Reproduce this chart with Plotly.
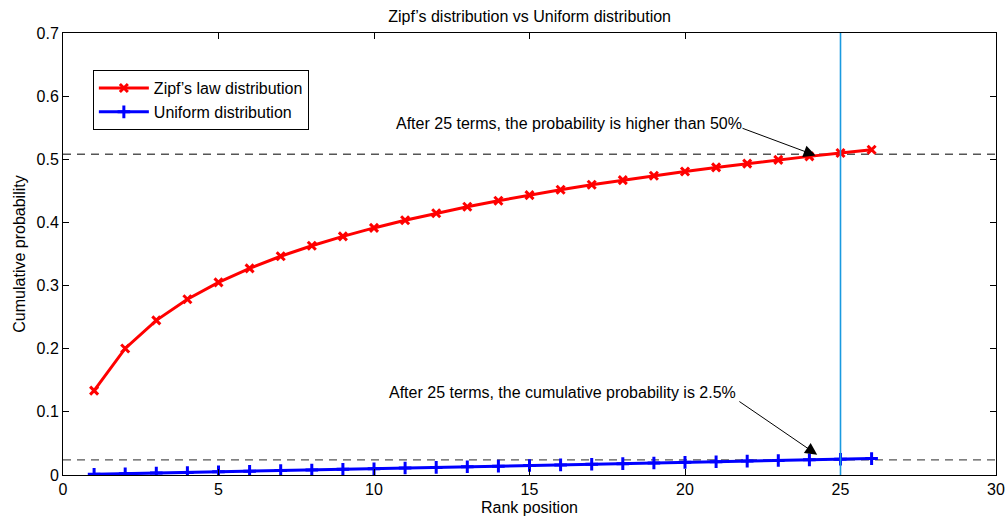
import plotly.graph_objects as go

rank = list(range(1, 27))
zipf = [0.1336, 0.2004, 0.2449, 0.2783, 0.3050, 0.3273, 0.3464, 0.3631, 0.3779,
        0.3913, 0.4034, 0.4146, 0.4249, 0.4344, 0.4433, 0.4517, 0.4596, 0.4670,
        0.4740, 0.4807, 0.4871, 0.4932, 0.4990, 0.5046, 0.5099, 0.5151]
uniform = [0.001, 0.002, 0.003, 0.004, 0.005, 0.006, 0.007, 0.008, 0.009, 0.010,
           0.011, 0.012, 0.013, 0.014, 0.015, 0.016, 0.017, 0.018, 0.019, 0.020,
           0.021, 0.022, 0.023, 0.024, 0.025, 0.026]
zipf_level = 0.508
uniform_level = 0.024
cut_rank = 25
x_ticks = [0, 5, 10, 15, 20, 25, 30]
y_ticks = [0, 0.1, 0.2, 0.3, 0.4, 0.5, 0.6, 0.7]
y_tick_labels = ["0", "0.1", "0.2", "0.3", "0.4", "0.5", "0.6", "0.7"]

FONT = "Liberation Sans, Arial, Helvetica, sans-serif"

fig = go.Figure()
fig.add_trace(go.Scatter(
    x=rank, y=zipf, mode="lines+markers", name="Zipf’s law distribution",
    line=dict(color="#ff0000", width=3),
    marker=dict(symbol="x-thin", size=8, color="#ff0000",
                line=dict(color="#ff0000", width=3)),
))
fig.add_trace(go.Scatter(
    x=rank, y=uniform, mode="lines+markers", name="Uniform distribution",
    line=dict(color="#0000ff", width=3),
    marker=dict(symbol="cross-thin", size=9, color="#0000ff",
                line=dict(color="#0000ff", width=3)),
))

# dashed reference lines
for lvl in (zipf_level, uniform_level):
    fig.add_shape(type="line", xref="paper", x0=0, x1=1, yref="y", y0=lvl, y1=lvl,
                  line=dict(color="#555555", width=1.3, dash="8px,6px"), layer="below")
# vertical line at rank 25
fig.add_shape(type="line", xref="x", x0=cut_rank, x1=cut_rank, yref="paper", y0=0, y1=1,
              line=dict(color="#1a9ae0", width=1.6))

# annotations
fig.add_annotation(x=24.2, y=0.506, ax=21.8, ay=0.55, xref="x", yref="y",
                   axref="x", ayref="y", text="", showarrow=True,
                   arrowhead=2, arrowsize=2.4, arrowwidth=1, arrowcolor="black")
fig.add_annotation(x=21.9, y=0.556, xref="x", yref="y", xanchor="right", yanchor="middle",
                   text="After 25 terms, the probability is higher than 50%", showarrow=False,
                   font=dict(family=FONT, size=16, color="black"))
fig.add_annotation(x=24.25, y=0.032, ax=21.7, ay=0.118, xref="x", yref="y",
                   axref="x", ayref="y", text="", showarrow=True,
                   arrowhead=2, arrowsize=2.4, arrowwidth=1, arrowcolor="black")
fig.add_annotation(x=21.7, y=0.130, xref="x", yref="y", xanchor="right", yanchor="middle",
                   text="After 25 terms, the cumulative probability is 2.5%", showarrow=False,
                   font=dict(family=FONT, size=16, color="black"))

axis_common = dict(showgrid=False, zeroline=False, showline=True, linecolor="black",
                   linewidth=1, mirror="ticks", ticks="inside", ticklen=6,
                   tickcolor="black", automargin=False,
                   tickfont=dict(family=FONT, size=16, color="black"))

fig.update_layout(
    width=1005, height=518,
    margin=dict(l=63, r=9, t=33, b=43),
    paper_bgcolor="white", plot_bgcolor="white",
    font=dict(family=FONT, color="black"),
    title=dict(text="Zipf’s distribution vs Uniform distribution", x=0.527, xanchor="center",
               y=0.969, yanchor="middle", font=dict(family=FONT, size=16, color="black")),
    xaxis=dict(range=[0, 30], tickvals=x_ticks,
               title=dict(text="Rank position", font=dict(family=FONT, size=16), standoff=4),
               **axis_common),
    yaxis=dict(range=[0, 0.7], tickvals=y_ticks, ticktext=y_tick_labels,
               title=dict(text="Cumulative probability", font=dict(family=FONT, size=16), standoff=6),
               **axis_common),
    legend=dict(x=0.032, y=0.916, xanchor="left", yanchor="top",
                bordercolor="black", borderwidth=1, bgcolor="white",
                font=dict(family=FONT, size=16, color="black"),
                tracegroupgap=0, itemwidth=50),
    showlegend=True,
)

fig.write_html("out.html", post_script="document.body.style.margin='0';",
               config={"displayModeBar": False})
